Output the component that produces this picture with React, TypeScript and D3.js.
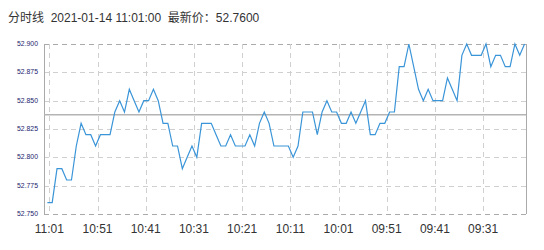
import React from "react";
import * as d3 from "d3";

const title = "分时线  2021-01-14 11:01:00  最新价：52.7600";
const prices: number[] = [
  52.76, 52.76, 52.79, 52.79, 52.78, 52.78, 52.81, 52.83, 52.82, 52.82,
  52.81, 52.82, 52.82, 52.82, 52.84, 52.85, 52.84, 52.86, 52.85, 52.84,
  52.85, 52.85, 52.86, 52.85, 52.83, 52.83, 52.81, 52.81, 52.79, 52.80,
  52.81, 52.80, 52.83, 52.83, 52.83, 52.82, 52.81, 52.81, 52.82, 52.81,
  52.81, 52.81, 52.82, 52.81, 52.83, 52.84, 52.83, 52.81, 52.81, 52.81,
  52.81, 52.80, 52.81, 52.84, 52.84, 52.84, 52.82, 52.84, 52.85, 52.84,
  52.84, 52.83, 52.83, 52.84, 52.83, 52.84, 52.85, 52.82, 52.82, 52.83,
  52.83, 52.84, 52.84, 52.88, 52.88, 52.90, 52.88, 52.86, 52.85, 52.86,
  52.85, 52.85, 52.85, 52.87, 52.86, 52.85, 52.89, 52.90, 52.89, 52.89,
  52.89, 52.90, 52.88, 52.89, 52.89, 52.88, 52.88, 52.90, 52.89, 52.90,
];
const timeLabels = ["11:01", "10:51", "10:41", "10:31", "10:21", "10:11", "10:01", "09:51", "09:41", "09:31"];
const timeLabelIndex = [0, 10, 20, 30, 40, 50, 60, 70, 80, 90];
const yTicks = [52.75, 52.775, 52.8, 52.825, 52.85, 52.875, 52.9];
const refPrice = 52.8376;

export default function App() {
  const W = 544, H = 250;
  const left = 44, right = 526, top = 44, bottom = 214;
  const x = d3.scaleLinear().domain([-0.7, prices.length - 0.7]).range([left, right]);
  const y = d3.scaleLinear().domain([52.75, 52.9]).range([bottom, top]);
  const line = d3.line<number>().x((_, i) => x(i)).y((d) => y(d));
  const font = "'Liberation Sans', Arial, 'Noto Sans CJK SC', sans-serif";
  const gridOffset = 0.4;
  return (
    <svg width={W} height={H} style={{ position: "absolute", left: 0, top: 0, background: "#fff" }}>
      <text x={8} y={22} fontSize={12} fill="#333" fontFamily={font} style={{ whiteSpace: "pre" }}>
        {title}
      </text>
      {/* horizontal grid */}
      {yTicks.map((t, k) => {
        const edge = k === 0 || k === yTicks.length - 1;
        return (
          <line key={"h" + k} x1={left} x2={right} y1={Math.round(y(t)) + 0.5} y2={Math.round(y(t)) + 0.5}
            stroke={edge ? "#aaa" : "#d0d0d0"} strokeDasharray="5,4" strokeWidth={1} />
        );
      })}
      {/* vertical grid */}
      {timeLabelIndex.map((idx, k) => (
        <line key={"v" + k} x1={Math.round(x(idx + gridOffset)) + 0.5} x2={Math.round(x(idx + gridOffset)) + 0.5}
          y1={top} y2={bottom} stroke="#d0d0d0" strokeDasharray="5,4" strokeWidth={1} />
      ))}
      {/* side borders */}
      <line x1={left + 0.5} x2={left + 0.5} y1={top} y2={bottom} stroke="#aaa" strokeWidth={1} />
      <line x1={right + 0.5} x2={right + 0.5} y1={top} y2={bottom} stroke="#aaa" strokeWidth={1} />
      {/* reference line */}
      <line x1={left} x2={right} y1={y(refPrice)} y2={y(refPrice)} stroke="#b4b4b4" strokeWidth={1.5} />
      {/* price line */}
      <path d={line(prices) || ""} fill="none" stroke="#3a95d8" strokeWidth={1.2} />
      {/* y labels */}
      {yTicks.map((t, k) => (
        <text key={"yl" + k} x={38} y={y(t) + 2} fontSize={6.5} fill="#1c1c6e" textAnchor="end"
          fontFamily={font} textLength={21} lengthAdjust="spacingAndGlyphs">
          {t.toFixed(3)}
        </text>
      ))}
      {/* x labels */}
      {timeLabels.map((lab, k) => (
        <text key={"xl" + k} x={x(timeLabelIndex[k] + gridOffset)} y={233} fontSize={12} fill="#333"
          textAnchor="middle" fontFamily={font}>
          {lab}
        </text>
      ))}
    </svg>
  );
}
